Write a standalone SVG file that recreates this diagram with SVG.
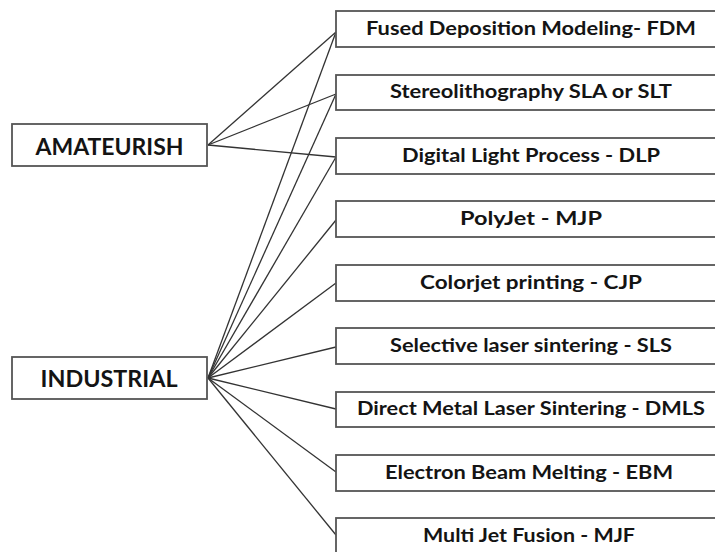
<svg xmlns="http://www.w3.org/2000/svg" width="715" height="552" viewBox="0 0 715 552">
  <style>
    .box { fill: #ffffff; stroke: #555555; stroke-width: 1.8; }
    .link { fill: none; stroke: #333333; stroke-width: 1.3; }
    .lbl { font-family: Lato, "Open Sans", "Liberation Sans", sans-serif; font-weight: 700; fill: #141414; text-anchor: middle; }
    .cat { font-size: 22px; }
    .tech { font-size: 18px; }
  </style>
  <rect width="715" height="552" fill="#ffffff"/>

  <!-- connectors from the two categories to the printing technologies -->
  <g id="connectors">
    <line class="link" x1="208" y1="145" x2="336" y2="32"/>
    <line class="link" x1="208" y1="145" x2="336" y2="94"/>
    <line class="link" x1="208" y1="145" x2="336" y2="157"/>
    <line class="link" x1="208" y1="378" x2="336" y2="32"/>
    <line class="link" x1="208" y1="378" x2="336" y2="94"/>
    <line class="link" x1="208" y1="378" x2="336" y2="157"/>
    <line class="link" x1="208" y1="378" x2="336" y2="220"/>
    <line class="link" x1="208" y1="378" x2="336" y2="283"/>
    <line class="link" x1="208" y1="378" x2="336" y2="347"/>
    <line class="link" x1="208" y1="378" x2="336" y2="409"/>
    <line class="link" x1="208" y1="378" x2="336" y2="472"/>
    <line class="link" x1="208" y1="378" x2="336" y2="535"/>
  </g>

  <!-- categories -->
  <g id="amateurish">
    <rect class="box" x="12" y="124" width="195" height="42"/>
    <text class="lbl cat" x="109.5" y="155" textLength="148" lengthAdjust="spacingAndGlyphs">AMATEURISH</text>
  </g>
  <g id="industrial">
    <rect class="box" x="12" y="357" width="195" height="42"/>
    <text class="lbl cat" x="109" y="387" textLength="137" lengthAdjust="spacingAndGlyphs">INDUSTRIAL</text>
  </g>

  <!-- technologies -->
  <g id="fdm">
    <rect class="box" x="336" y="11" width="392" height="36"/>
    <text class="lbl tech" x="531" y="35" textLength="330" lengthAdjust="spacingAndGlyphs">Fused Deposition Modeling- FDM</text>
  </g>
  <g id="sla">
    <rect class="box" x="336" y="75" width="392" height="35"/>
    <text class="lbl tech" x="531" y="98" textLength="282" lengthAdjust="spacingAndGlyphs">Stereolithography SLA or SLT</text>
  </g>
  <g id="dlp">
    <rect class="box" x="336" y="138" width="392" height="36"/>
    <text class="lbl tech" x="531" y="162" textLength="258" lengthAdjust="spacingAndGlyphs">Digital Light Process - DLP</text>
  </g>
  <g id="polyjet">
    <rect class="box" x="336" y="201" width="392" height="36"/>
    <text class="lbl tech" x="531" y="225" textLength="142" lengthAdjust="spacingAndGlyphs">PolyJet - MJP</text>
  </g>
  <g id="cjp">
    <rect class="box" x="336" y="265" width="392" height="36"/>
    <text class="lbl tech" x="531" y="289" textLength="222" lengthAdjust="spacingAndGlyphs">Colorjet printing - CJP</text>
  </g>
  <g id="sls">
    <rect class="box" x="336" y="328" width="392" height="36"/>
    <text class="lbl tech" x="531" y="352" textLength="282" lengthAdjust="spacingAndGlyphs">Selective laser sintering - SLS</text>
  </g>
  <g id="dmls">
    <rect class="box" x="336" y="392" width="392" height="35"/>
    <text class="lbl tech" x="531" y="415" textLength="348" lengthAdjust="spacingAndGlyphs">Direct Metal Laser Sintering - DMLS</text>
  </g>
  <g id="ebm">
    <rect class="box" x="336" y="455" width="392" height="36"/>
    <text class="lbl tech" x="529" y="479" textLength="288" lengthAdjust="spacingAndGlyphs">Electron Beam Melting - EBM</text>
  </g>
  <g id="mjf">
    <rect class="box" x="336" y="518" width="392" height="50"/>
    <text class="lbl tech" x="529" y="542" textLength="212" lengthAdjust="spacingAndGlyphs">Multi Jet Fusion - MJF</text>
  </g>
</svg>
